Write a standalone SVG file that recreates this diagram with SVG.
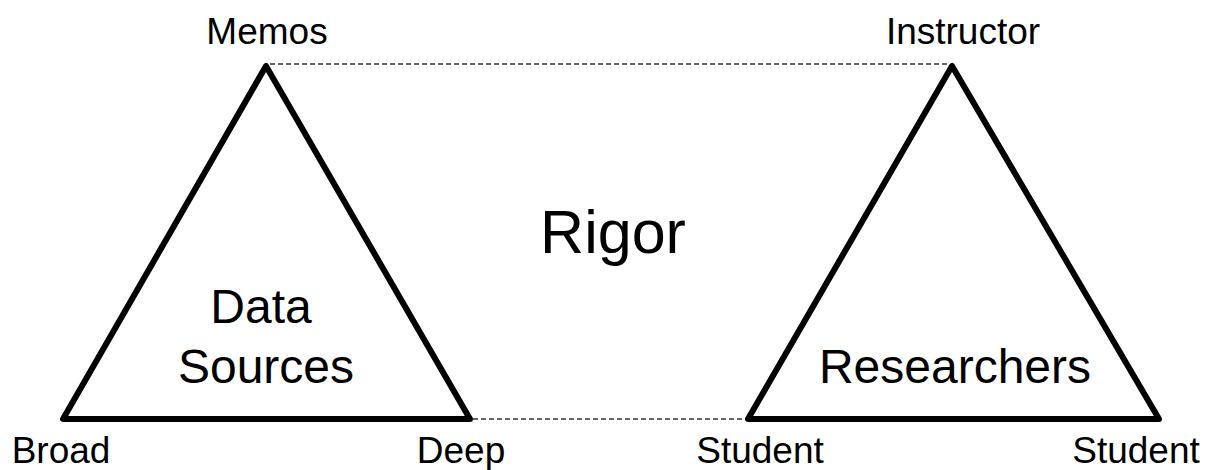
<svg xmlns="http://www.w3.org/2000/svg" width="1211" height="470" viewBox="0 0 1211 470">
<style>
.tri{fill:none;stroke:#000;stroke-width:6;stroke-linejoin:round;stroke-linecap:round}
.dash{stroke:#333;stroke-width:1.6;stroke-dasharray:5 3;fill:none}
text{font-family:"Liberation Sans",Arial,sans-serif;fill:#000;text-anchor:middle}
.lbl{font-size:37px}
.mid{font-size:48px}
.big{font-size:61px}
</style>
<rect width="1211" height="470" fill="#fff"/>
<g id="connectors">
<line class="dash" x1="270" y1="64" x2="949" y2="64"/>
<line class="dash" x1="473" y1="419" x2="747" y2="419"/>
</g>
<g id="data-sources">
<polygon class="tri" points="266,66 63,419 470,419"/>
<text class="mid" x="261" y="323">Data</text>
<text class="mid" x="266" y="383">Sources</text>
</g>
<g id="researchers">
<polygon class="tri" points="952,66 748,419 1159,419"/>
<text class="mid" x="955" y="383">Researchers</text>
</g>
<g id="rigor">
<text class="big" x="613" y="253">Rigor</text>
</g>
<g id="labels">
<text class="lbl" x="267" y="44">Memos</text>
<text class="lbl" x="963" y="44">Instructor</text>
<text class="lbl" x="61" y="463">Broad</text>
<text class="lbl" x="461" y="463">Deep</text>
<text class="lbl" x="760" y="463">Student</text>
<text class="lbl" x="1136" y="463">Student</text>
</g>
</svg>
